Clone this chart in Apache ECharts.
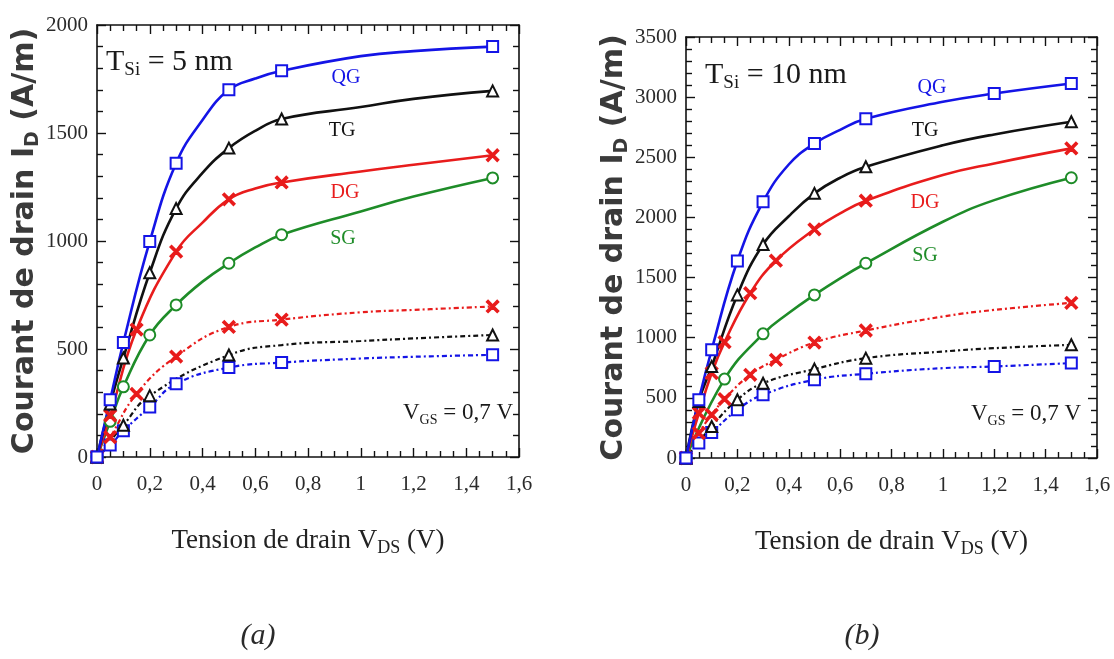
<!DOCTYPE html>
<html>
<head>
<meta charset="utf-8">
<script src="https://cdn.jsdelivr.net/npm/echarts@6/dist/echarts.min.js"></script>
<style>
  html, body { margin: 0; padding: 0; background: #fff; }
  #chart { width: 1114px; height: 659px; }
</style>
</head>
<body>
<div id="chart"></div>
<script>
// ---- data: V_DS (V) and I_D (A/m) ----
// marked points (symbols), plus extra points (no symbol)

// (a) T_Si = 5 nm, solid lines
var vQG5 = [0, 0.05, 0.1, 0.2, 0.3, 0.5, 0.7, 1.5]
var iQG5 = [0, 265, 530, 998, 1360, 1700, 1788, 1900]
var cvQG5 = [0.4, 0.6, 1.0, 1.2]
var ciQG5 = [1560, 1752, 1856, 1879]

var vTG5 = [0, 0.05, 0.1, 0.2, 0.3, 0.5, 0.7, 1.5]
var iTG5 = [0, 245, 458, 853, 1150, 1430, 1565, 1695]
var cvTG5 = [0.4, 0.6, 1.0, 1.2]
var ciTG5 = [1315, 1510, 1620, 1658]

var vDG5 = [0, 0.05, 0.15, 0.3, 0.5, 0.7, 1.5]
var iDG5 = [0, 192, 590, 951, 1193, 1271, 1397]
var cvDG5 = [0.4, 0.6, 1.0, 1.2]
var ciDG5 = [1085, 1243, 1322, 1353]

var vSG5 = [0, 0.05, 0.1, 0.2, 0.3, 0.5, 0.7, 1.5]
var iSG5 = [0, 165, 325, 565, 704, 897, 1029, 1292]
var cvSG5 = [0.4, 0.6, 1.0, 1.2]
var ciSG5 = [812, 970, 1137, 1206]

// (a) dashed lines
var vDG5d = [0, 0.05, 0.15, 0.3, 0.5, 0.7, 1.5]
var iDG5d = [0, 92, 292, 465, 602, 636, 697]
var cvDG5d = [1.0, 1.2]
var ciDG5d = [670, 681]

var vTG5d = [0, 0.1, 0.2, 0.5, 1.5]
var iTG5d = [0, 147, 284, 472, 565]
var cvTG5d = [0.7, 1.0, 1.2]
var ciTG5d = [518, 537, 549]

var vQG5d = [0, 0.05, 0.1, 0.2, 0.3, 0.5, 0.7, 1.5]
var iQG5d = [0, 55, 121, 232, 339, 414, 437, 473]
var cvQG5d = [1.0, 1.2]
var ciQG5d = [456, 464]

// (b) T_Si = 10 nm, solid lines
var vQG10 = [0, 0.05, 0.1, 0.2, 0.3, 0.5, 0.7, 1.2, 1.5]
var iQG10 = [0, 485, 900, 1638, 2130, 2615, 2820, 3030, 3113]
var cvQG10 = [0.4, 0.6, 1.0]
var ciQG10 = [2440, 2728, 2961]

var vTG10 = [0, 0.05, 0.1, 0.2, 0.3, 0.5, 0.7, 1.5]
var iTG10 = [0, 470, 760, 1356, 1775, 2200, 2421, 2795]
var cvTG10 = [0.4, 0.6, 1.0, 1.2]
var ciTG10 = [2010, 2330, 2600, 2690]

var vDG10 = [0, 0.05, 0.1, 0.15, 0.25, 0.35, 0.5, 0.7, 1.5]
var iDG10 = [0, 373, 706, 963, 1370, 1640, 1901, 2139, 2574]
var cvDG10 = [0.6, 1.0, 1.2]
var ciDG10 = [2034, 2352, 2449]

var vSG10 = [0, 0.15, 0.3, 0.5, 0.7, 1.5]
var iSG10 = [0, 656, 1032, 1356, 1619, 2330]
var cvSG10 = [0.4, 0.6, 1.0, 1.2]
var ciSG10 = [1205, 1494, 1964, 2144]

// (b) dashed lines
var vDG10d = [0, 0.05, 0.1, 0.15, 0.25, 0.35, 0.5, 0.7, 1.5]
var iDG10d = [0, 207, 359, 490, 692, 816, 960, 1060, 1290]
var cvDG10d = [1.0, 1.2]
var ciDG10d = [1176, 1231]

var vTG10d = [0, 0.1, 0.2, 0.3, 0.5, 0.7, 1.5]
var iTG10d = [0, 262, 484, 622, 739, 830, 941]
var cvTG10d = [1.0, 1.2]
var ciTG10d = [885, 913]

var vQG10d = [0, 0.05, 0.1, 0.2, 0.3, 0.5, 0.7, 1.2, 1.5]
var iQG10d = [0, 125, 213, 401, 526, 650, 700, 761, 789]
var cvQG10d = [1.0]
var ciQG10d = [747]

// axis ranges / ticks
var xMin = 0, xMax = 1.6, xStep = 0.2
var yMax5 = 2000, yMax10 = 3500, yStep = 500

var myChart = echarts.init(document.getElementById('chart'), null, { renderer: 'canvas' })

var SERIF = '"Liberation Serif", "DejaVu Serif", serif'
var SANS = '"DejaVu Sans", "Liberation Sans", sans-serif'
var BLUE = '#1414e6', BLACK = '#111111', RED = '#e81c1c', GREEN = '#1e8c28'
var CROSS = 'path://M0,1.2L1.2,0L5,3.8L8.8,0L10,1.2L6.2,5L10,8.8L8.8,10L5,6.2L1.2,10L0,8.8L3.8,5Z'

function pairs(xs, ys) {
    return xs.map(function (x, i) { return [x, ys[i]] })
}

// one curve = a smooth line through all read points + the marked points on top
function curve(xs, ys, cxs, cys, color, symbol, dashed, idx) {
    var all = pairs(xs, ys).concat(pairs(cxs, cys)).sort(function (a, b) { return a[0] - b[0] })
    return [{
        type: 'line',
        xAxisIndex: idx,
        yAxisIndex: idx,
        data: all,
        smooth: 0.45,
        symbol: 'none',
        clip: false,
        lineStyle: { color: color, width: dashed ? 2.2 : 2.6, type: dashed ? [5, 3, 2, 3] : 'solid' },
        emphasis: { disabled: true },
        z: dashed ? 2 : 3
    }, {
        type: 'scatter',
        xAxisIndex: idx,
        yAxisIndex: idx,
        data: pairs(xs, ys),
        symbol: symbol,
        symbolSize: symbol === CROSS ? 12 : 11,
        clip: false,
        itemStyle: { color: color, borderColor: color, borderWidth: 1.6, opacity: 1 },
        emphasis: { disabled: true },
        z: dashed ? 4 : 5
    }]
}

function xAxes(grid, top) {
    return {
        type: 'value', gridIndex: grid, position: top ? 'top' : 'bottom',
        min: xMin, max: xMax, interval: xStep,
        axisLine: { show: true, onZero: false, lineStyle: { color: '#111', width: 1.6 } },
        axisTick: { show: true, inside: true, length: 9, lineStyle: { color: '#111', width: 1.4 } },
        minorTick: { show: true, splitNumber: 4, length: 6, lineStyle: { color: '#111', width: 1.4 } },
        splitLine: { show: false },
        axisLabel: {
            show: !top, margin: 17, color: '#2b2b2b', fontFamily: SERIF, fontSize: 21,
            formatter: function (v) { return String(+v.toFixed(1)).replace('.', ',') }
        },
        name: top ? '' : 'Tension de drain V{sub|DS} (V)',
        nameLocation: 'middle', nameGap: 68,
        nameTextStyle: {
            color: '#222', fontFamily: SERIF, fontSize: 27,
            rich: { sub: { fontFamily: SERIF, fontSize: 18, padding: [14, 0, 0, 0], color: '#222' } }
        }
    }
}

function yAxes(grid, right, yMax, gap) {
    return {
        type: 'value', gridIndex: grid, position: right ? 'right' : 'left',
        min: 0, max: yMax, interval: yStep,
        axisLine: { show: true, onZero: false, lineStyle: { color: '#111', width: 1.6 } },
        axisTick: { show: true, inside: true, length: 9, lineStyle: { color: '#111', width: 1.4 } },
        minorTick: { show: true, splitNumber: 5, length: 6, lineStyle: { color: '#111', width: 1.4 } },
        splitLine: { show: false },
        axisLabel: {
            show: !right, margin: 9, color: '#2b2b2b', fontFamily: SERIF, fontSize: 21,
            formatter: function (v) { return String(v) }
        },
        name: right ? '' : 'Courant de drain I{sub|D} (A/m)',
        nameLocation: 'middle', nameGap: gap,
        nameTextStyle: {
            color: '#3a3a3a', fontFamily: SANS, fontWeight: 'bold', fontSize: 30,
            rich: { sub: { fontFamily: SANS, fontWeight: 'bold', fontSize: 19, padding: [14, 0, 0, 0], color: '#3a3a3a' } }
        }
    }
}

function label(x, y, text, color, size) {
    return {
        type: 'text', x: x, y: y,
        style: { text: text, fill: color, font: size + 'px ' + SERIF, textAlign: 'center', textVerticalAlign: 'middle' }
    }
}

function richLabel(x, y, text, size, subSize, dy) {
    return {
        type: 'text', x: x, y: y,
        style: {
            text: text, fill: '#1a1a1a', fontFamily: SERIF, fontSize: size,
            textAlign: 'left', textVerticalAlign: 'middle',
            rich: { sub: { fontFamily: SERIF, fontSize: subSize, fill: '#1a1a1a', padding: [dy, 0, 0, 0] } }
        }
    }
}

var series = [].concat(
    curve(vQG5d, iQG5d, cvQG5d, ciQG5d, BLUE, 'emptyRect', true, 0),
    curve(vTG5d, iTG5d, cvTG5d, ciTG5d, BLACK, 'emptyTriangle', true, 0),
    curve(vDG5d, iDG5d, cvDG5d, ciDG5d, RED, CROSS, true, 0),
    curve(vSG5, iSG5, cvSG5, ciSG5, GREEN, 'emptyCircle', false, 0),
    curve(vDG5, iDG5, cvDG5, ciDG5, RED, CROSS, false, 0),
    curve(vTG5, iTG5, cvTG5, ciTG5, BLACK, 'emptyTriangle', false, 0),
    curve(vQG5, iQG5, cvQG5, ciQG5, BLUE, 'emptyRect', false, 0),

    curve(vQG10d, iQG10d, cvQG10d, ciQG10d, BLUE, 'emptyRect', true, 2),
    curve(vTG10d, iTG10d, cvTG10d, ciTG10d, BLACK, 'emptyTriangle', true, 2),
    curve(vDG10d, iDG10d, cvDG10d, ciDG10d, RED, CROSS, true, 2),
    curve(vSG10, iSG10, cvSG10, ciSG10, GREEN, 'emptyCircle', false, 2),
    curve(vDG10, iDG10, cvDG10, ciDG10, RED, CROSS, false, 2),
    curve(vTG10, iTG10, cvTG10, ciTG10, BLACK, 'emptyTriangle', false, 2),
    curve(vQG10, iQG10, cvQG10, ciQG10, BLUE, 'emptyRect', false, 2)
)

var option = {
    animation: false,
    backgroundColor: '#fff',
    grid: [
        { left: 97, top: 25, width: 422, height: 432, outerBoundsMode: 'none' },
        { left: 686, top: 37, width: 411, height: 421, outerBoundsMode: 'none' }
    ],
    xAxis: [xAxes(0, false), xAxes(0, true), xAxes(1, false), xAxes(1, true)],
    yAxis: [yAxes(0, false, yMax5, 50), yAxes(0, true, yMax5, 0), yAxes(1, false, yMax10, 54), yAxes(1, true, yMax10, 0)],
    series: series,
    graphic: [
        richLabel(106, 62, 'T{sub|Si} = 5 nm', 30, 19, 16),
        richLabel(403, 413, 'V{sub|GS} = 0,7 V', 23, 14, 14),
        label(346, 78, 'QG', BLUE, 20),
        label(342, 131, 'TG', BLACK, 20),
        label(345, 193, 'DG', RED, 20),
        label(343, 239, 'SG', GREEN, 20),

        richLabel(705, 75, 'T{sub|Si} = 10 nm', 30, 19, 16),
        richLabel(971, 414, 'V{sub|GS} = 0,7 V', 23, 14, 14),
        label(932, 88, 'QG', BLUE, 20),
        label(925, 131, 'TG', BLACK, 20),
        label(925, 203, 'DG', RED, 20),
        label(925, 256, 'SG', GREEN, 20),

        {
            type: 'text', x: 258, y: 636,
            style: { text: '(a)', fill: '#2a2a2a', font: 'italic 30px ' + SERIF, textAlign: 'center', textVerticalAlign: 'middle' }
        },
        {
            type: 'text', x: 862, y: 636,
            style: { text: '(b)', fill: '#2a2a2a', font: 'italic 30px ' + SERIF, textAlign: 'center', textVerticalAlign: 'middle' }
        }
    ]
}

myChart.setOption(option)
</script>
</body>
</html>
